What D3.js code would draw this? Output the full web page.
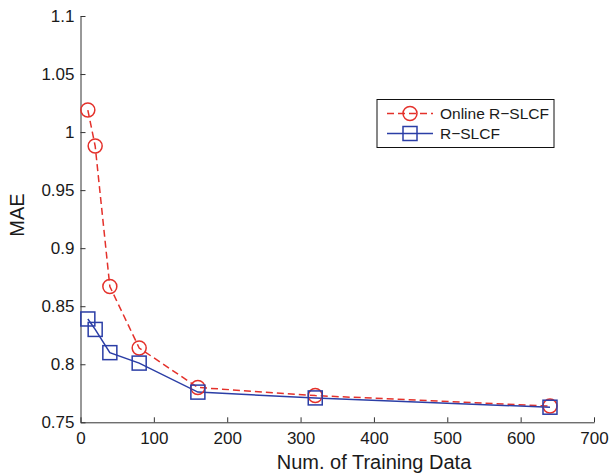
<!DOCTYPE html>
<html>
<head>
<meta charset="utf-8">
<script src="https://cdn.jsdelivr.net/npm/d3@7"></script>
<style>
  body { margin: 0; background: #fff; }
  svg { display: block; font-family: "Liberation Sans", Arial, Helvetica, sans-serif; }
</style>
</head>
<body>
<div id="chart"></div>
<script>
var trainingSizes = [10, 20, 40, 80, 160, 320, 640];
var onlineMae = [1.019, 0.988, 0.867, 0.814, 0.780, 0.773, 0.764];
var batchMae = [0.839, 0.830, 0.810, 0.801, 0.776, 0.771, 0.763];
var xTicks = [0, 100, 200, 300, 400, 500, 600, 700];
var yTicks = [0.75, 0.8, 0.85, 0.9, 0.95, 1, 1.05, 1.1];
var seriesNames = ['Online R\u2212SLCF', 'R\u2212SLCF'];

var width = 611, height = 475;
var red = '#e4312b', blue = '#2b3ea6';

var svg = d3.select('#chart').append('svg')
  .attr('width', width)
  .attr('height', height);

var x = d3.scaleLinear().domain([0, 700]).range([80.5, 594]);
var y = d3.scaleLinear().domain([0.75, 1.1]).range([422.3, 16]);

// axes, ticks point inward (matlab style)
var xAxis = svg.append('g')
  .attr('transform', 'translate(0,' + y(0.75) + ')')
  .call(d3.axisBottom(x).tickValues(xTicks).tickSizeInner(-5).tickSizeOuter(0).tickPadding(10));
var yAxis = svg.append('g')
  .attr('transform', 'translate(' + x(0) + ',0)')
  .call(d3.axisLeft(y).tickValues(yTicks).tickSizeInner(-5).tickSizeOuter(0).tickPadding(6)
    .tickFormat(d3.format('~g')));

[xAxis, yAxis].forEach(function(ax) {
  ax.select('.domain').attr('stroke', '#333').attr('stroke-width', 1);
  ax.selectAll('.tick line').attr('stroke', '#333');
  ax.selectAll('.tick text').attr('font-size', 17).attr('fill', '#1a1a1a')
    .style('font-family', '"Liberation Sans", Arial, sans-serif');
});

svg.append('text')
  .attr('x', 374).attr('y', 469)
  .attr('text-anchor', 'middle')
  .attr('font-size', 20).attr('fill', '#1a1a1a')
  .text('Num. of Training Data');

svg.append('text')
  .attr('transform', 'translate(24,215) rotate(-90)')
  .attr('text-anchor', 'middle')
  .attr('font-size', 20).attr('fill', '#1a1a1a')
  .text('MAE');

var line = d3.line().x(d => x(d[0])).y(d => y(d[1]));
var onlinePts = trainingSizes.map((t, i) => [t, onlineMae[i]]);
var batchPts = trainingSizes.map((t, i) => [t, batchMae[i]]);

svg.append('path').datum(onlinePts)
  .attr('d', line).attr('fill', 'none')
  .attr('stroke', red).attr('stroke-width', 1.5)
  .attr('stroke-dasharray', '7,4');
svg.append('path').datum(batchPts)
  .attr('d', line).attr('fill', 'none')
  .attr('stroke', blue).attr('stroke-width', 1.5);

svg.append('g').selectAll('circle').data(onlinePts).enter().append('circle')
  .attr('cx', d => x(d[0])).attr('cy', d => y(d[1]))
  .attr('r', 7).attr('fill', 'none')
  .attr('stroke', red).attr('stroke-width', 1.5);

svg.append('g').selectAll('rect').data(batchPts).enter().append('rect')
  .attr('x', d => x(d[0]) - 7).attr('y', d => y(d[1]) - 7)
  .attr('width', 14).attr('height', 14).attr('fill', 'none')
  .attr('stroke', blue).attr('stroke-width', 1.5);

// legend
var legend = svg.append('g');
legend.append('rect')
  .attr('x', 377).attr('y', 99.5).attr('width', 177).attr('height', 48)
  .attr('fill', '#fff').attr('stroke', '#111').attr('stroke-width', 1);

var rows = [
  { name: seriesNames[0], color: red, dash: '7,4', y: 113.5, marker: 'circle' },
  { name: seriesNames[1], color: blue, dash: null, y: 133.5, marker: 'square' }
];
rows.forEach(function(r) {
  legend.append('line')
    .attr('x1', 387).attr('x2', 433).attr('y1', r.y).attr('y2', r.y)
    .attr('stroke', r.color).attr('stroke-width', 1.5)
    .attr('stroke-dasharray', r.dash);
  if (r.marker === 'circle') {
    legend.append('circle').attr('cx', 410).attr('cy', r.y).attr('r', 7)
      .attr('fill', 'none').attr('stroke', r.color).attr('stroke-width', 1.5);
  } else {
    legend.append('rect').attr('x', 403).attr('y', r.y - 7).attr('width', 14).attr('height', 14)
      .attr('fill', 'none').attr('stroke', r.color).attr('stroke-width', 1.5);
  }
  legend.append('text')
    .attr('x', 440).attr('y', r.y).attr('dy', '0.35em')
    .attr('font-size', 15.5).attr('fill', '#1a1a1a')
    .text(r.name);
});
</script>
</body>
</html>
